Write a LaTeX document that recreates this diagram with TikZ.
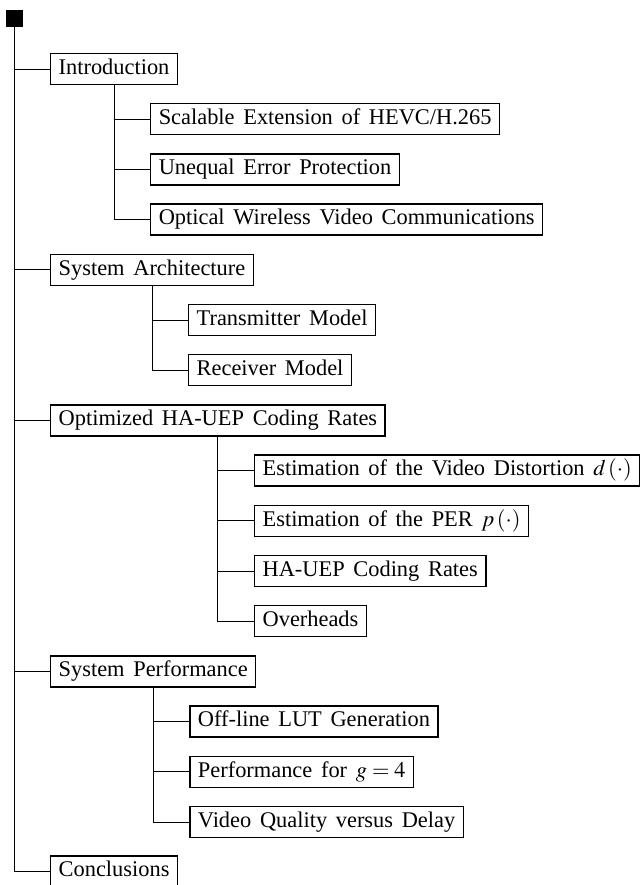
\documentclass[tikz,border=0pt]{standalone}
\usepackage{mathptmx}
\usepackage{fontspec}
\setmainfont{Liberation Serif}[WordSpace=1.55]
\begin{document}
\begin{tikzpicture}[x=0.5pt,y=-0.5pt,
  font=\fontsize{11.2}{13}\selectfont,
  box/.style={draw, line width=0.7pt, inner xsep=4pt, inner ysep=0pt,
    minimum height=15.5pt, text height=7.6pt, text depth=2.4pt, anchor=west},
  conn/.style={line width=0.45pt},
  rootsq/.style={fill=black, minimum size=8.5pt, inner sep=0pt}]
\useasboundingbox (0,0) rectangle (639,885);
% root
\node[rootsq] (root) at (14,18.5) {};
\coordinate[xshift=18pt] (rc) at (root.south);
% level 1
\node[box] (intro) at (rc |- 0,69) {Introduction};
\node[box] (arch) at (rc |- 0,269.8) {System Architecture};
\node[box] (opt) at (rc |- 0,420.4) {Optimized HA-UEP Coding Rates};
\node[box] (perf) at (rc |- 0,671.4) {System Performance};
\node[box] (concl) at (rc |- 0,871.5) {Conclusions};
% introduction children
\coordinate[xshift=18pt] (ic) at (intro.south);
\node[box] (shvc) at (ic |- 0,119.2) {Scalable Extension of HEVC/H.265};
\node[box] (uep) at (ic |- 0,169.4) {Unequal Error Protection};
\node[box] (owc) at (ic |- 0,219.6) {Optical Wireless Video Communications};
% architecture children
\coordinate[xshift=18pt] (ac) at (arch.south);
\node[box] (tx) at (ac |- 0,320) {Transmitter Model};
\node[box] (rx) at (ac |- 0,370.2) {Receiver Model};
% optimized children
\coordinate[xshift=18pt] (oc) at (opt.south);
\node[box] (dist) at (oc |- 0,470.6) {Estimation of the Video Distortion $d\left(\cdot\right)$};
\node[box] (per) at (oc |- 0,520.8) {Estimation of the PER $p\left(\cdot\right)$};
\node[box] (rates) at (oc |- 0,571) {HA-UEP Coding Rates};
\node[box] (ovh) at (oc |- 0,621.2) {Overheads};
% performance children
\coordinate[xshift=18pt] (pc) at (perf.south);
\node[box] (lut) at (pc |- 0,721.6) {Off-line LUT Generation};
\node[box] (g4) at (pc |- 0,771.8) {Performance for $g=4$};
\node[box] (vq) at (pc |- 0,822) {Video Quality versus Delay};
% connectors
\foreach \c in {intro,arch,opt,perf,concl} \draw[conn] (root.south) |- (\c.west);
\foreach \c in {shvc,uep,owc} \draw[conn] (intro.south) |- (\c.west);
\foreach \c in {tx,rx} \draw[conn] (arch.south) |- (\c.west);
\foreach \c in {dist,per,rates,ovh} \draw[conn] (opt.south) |- (\c.west);
\foreach \c in {lut,g4,vq} \draw[conn] (perf.south) |- (\c.west);
\end{tikzpicture}
\end{document}
